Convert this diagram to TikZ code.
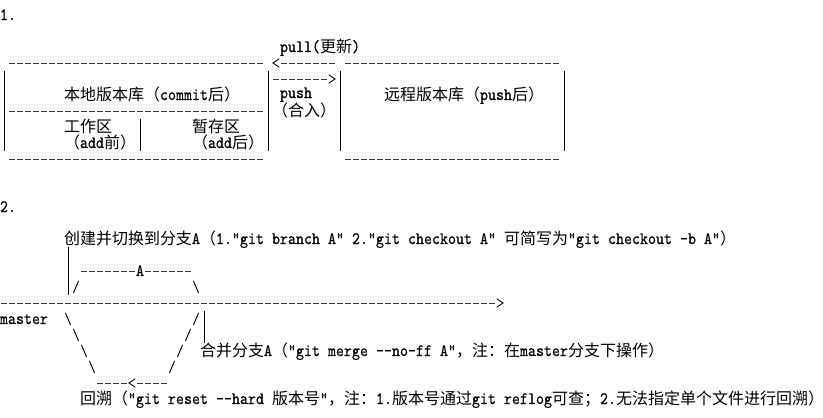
\documentclass[tikz,border=0pt]{standalone}
\usepackage{fontspec}
\newfontfamily\cjkfont{Noto Sans CJK SC}
\newfontfamily\ascfont[FakeStretch=0.8758,FakeBold=0.4]{lmmono10-regular.otf}
\newcommand\zh[1]{{\cjkfont\fontsize{16pt}{16pt}\selectfont #1}}
\newcommand\ascsetup{\ascfont\fontsize{17.4pt}{16pt}\selectfont\fontdimen2\font=8pt\relax}
% grid helpers: a character cell is 8pt wide and 16pt high
\newcommand\mytext[4]{\node[txt] (#1) at ({8*#2},{20+16*#3}) {#4};}
\newcommand\myhrun[3]{\draw[dashrun] ({8*#2+1},{15+16*#1}) -- ({8*#3+7},{15+16*#1});}
\newcommand\myvrun[3]{\draw[vbar] ({8*#1+4},{7+16*#2}) -- ({8*#1+4},{23+16*#3});}
\newcommand\myfsl[2]{\draw[slash] ({8*#1+1.5},{21+16*#2}) -- ({8*#1+6.5},{9+16*#2});}
\newcommand\mybsl[2]{\draw[slash] ({8*#1+1.5},{9+16*#2}) -- ({8*#1+6.5},{21+16*#2});}
\newcommand\myrtip[2]{\draw[slash] ({8*#1+1},{11+16*#2}) -- ({8*#1+7},{15+16*#2}) -- ({8*#1+1},{19+16*#2});}
\newcommand\myltip[2]{\draw[slash] ({8*#1+7},{11+16*#2}) -- ({8*#1+1},{15+16*#2}) -- ({8*#1+7},{19+16*#2});}
\begin{document}
\begin{tikzpicture}[x=1pt,y=-1pt,
  txt/.style={anchor=base west,inner sep=0pt,outer sep=0pt,text=black,
    font=\ascsetup},
  dashrun/.style={line width=1pt,black!80,dash pattern=on 6pt off 2pt},
  vbar/.style={line width=1pt,black},
  slash/.style={line width=0.9pt,black,line cap=round,line join=miter}]
\useasboundingbox (0,0) rectangle (823,418);
\fill[white] (0,0) rectangle (823,418);

% ---------- part 1 ----------
\mytext{n1}{0}{0}{1.}
\mytext{pull}{35}{2}{pull(\zh{更新})}
% local repository box
\myhrun{3}{1}{32}
\myvrun{0}{4}{8}
\myvrun{33}{4}{8}
\myhrun{6}{1}{32}
\myvrun{17}{7}{8}
\myhrun{9}{1}{32}
\mytext{local}{8}{5}{\zh{本地版本库（}commit\zh{后）}}
\mytext{work}{8}{7}{\zh{工作区}}
\mytext{workn}{8}{8}{\zh{（}add\zh{前）}}
\mytext{stage}{24}{7}{\zh{暂存区}}
\mytext{stagen}{24}{8}{\zh{（}add\zh{后）}}
% pull / push arrows
\myltip{34}{3}
\myhrun{3}{35}{41}
\myhrun{4}{34}{40}
\myrtip{41}{4}
\node[txt] (push) at (280,98) {push};
\mytext{pushn}{34}{6}{\zh{（合入）}}
% remote repository box
\myhrun{3}{43}{69}
\myvrun{42}{4}{8}
\myvrun{70}{4}{8}
\myhrun{9}{43}{69}
\mytext{remote}{48}{5}{\zh{远程版本库（}push\zh{后）}}

% ---------- part 2 ----------
\mytext{n2}{0}{12}{2.}
\mytext{create}{8}{14}{\zh{创建并切换到分支}A\zh{（}1."git branch A"}
\mytext{createa}{44}{14}{2."git checkout A"}
\mytext{createb}{63}{14}{\zh{可简写为}"git checkout -b A"\zh{）}}
\myvrun{8}{15}{17}
% branch A
\myhrun{16}{10}{16}
\mytext{brA}{17}{16}{A}
\myhrun{16}{18}{23}
\myfsl{9}{17}
\mybsl{24}{17}
% master line
\myhrun{18}{0}{61}
\myrtip{62}{18}
\mytext{master}{0}{19}{master}
\myvrun{25}{19}{20}
\mytext{merge}{25}{21}{\zh{合并分支}A\zh{（}"git merge -{}-no-ff A"\zh{，注：在}master\zh{分支下操作）}}
% reset branch
\mybsl{8}{19}
\mybsl{9}{20}
\mybsl{10}{21}
\mybsl{11}{22}
\myfsl{24}{19}
\myfsl{23}{20}
\myfsl{22}{21}
\myfsl{21}{22}
\myhrun{23}{12}{15}
\myltip{16}{23}
\myhrun{23}{17}{20}
\mytext{reset}{10}{24}{\zh{回溯（}"git reset -{}-hard \zh{版本号}"\zh{，注：}1.\zh{版本号通过}git reflog\zh{可查；}2.\zh{无法指定单个文件进行回溯）}}
\end{tikzpicture}
\end{document}
